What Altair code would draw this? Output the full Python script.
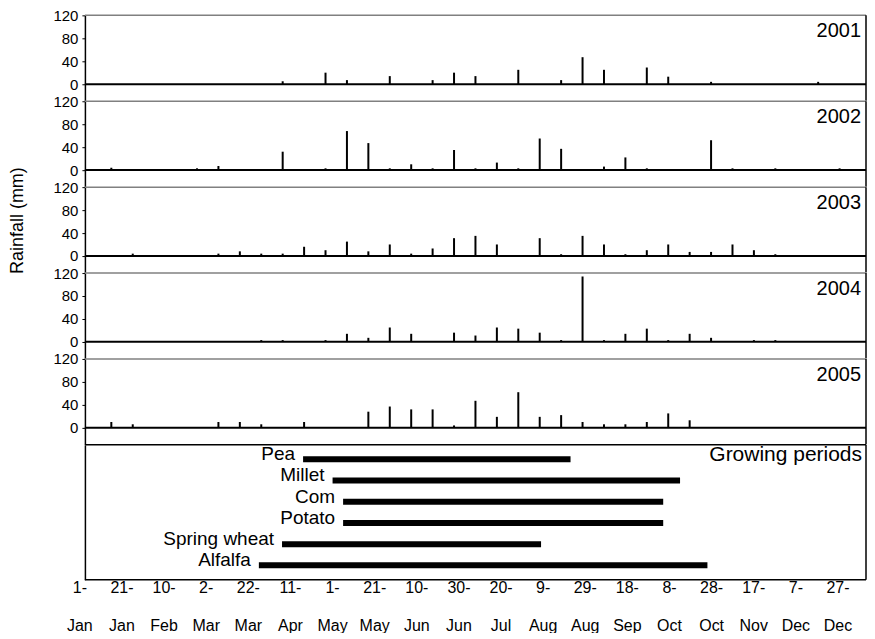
import altair as alt
import pandas as pd

FONT = "Liberation Sans"

# ---------------- data ----------------
years = ["2001", "2002", "2003", "2004", "2005"]

# dekad index (1..36) and rainfall (mm)
dek_2001 = [9, 11, 12, 14, 16, 17, 18, 20, 22, 23, 24, 26, 27, 29, 34]
mm_2001 = [5, 20, 7, 14, 7, 20, 14, 25, 7, 47, 25, 29, 13, 4, 4]

dek_2002 = [1, 5, 6, 9, 11, 12, 13, 14, 15, 16, 17, 18, 19, 20, 21, 22, 24, 25, 26, 29, 30, 32, 35]
mm_2002 = [4, 3, 7, 32, 3, 68, 47, 3, 10, 3, 35, 3, 13, 3, 55, 37, 6, 22, 3, 52, 3, 3, 3]

dek_2003 = [2, 6, 7, 8, 9, 10, 11, 12, 13, 14, 15, 16, 17, 18, 19, 21, 22, 23, 24, 25, 26, 27, 28, 29, 30, 31, 32]
mm_2003 = [4, 4, 8, 4, 4, 16, 10, 25, 8, 20, 4, 13, 31, 35, 20, 31, 3, 35, 20, 3, 10, 20, 7, 7, 20, 10, 3]

dek_2004 = [8, 9, 11, 12, 13, 14, 15, 17, 18, 19, 20, 21, 22, 23, 24, 25, 26, 27, 28, 29, 31, 32]
mm_2004 = [3, 3, 3, 14, 7, 25, 14, 16, 11, 25, 23, 16, 3, 114, 3, 14, 23, 3, 14, 7, 3, 3]

dek_2005 = [1, 2, 6, 7, 8, 10, 13, 14, 15, 16, 17, 18, 19, 20, 21, 22, 23, 24, 25, 26, 27, 28]
mm_2005 = [10, 6, 10, 10, 6, 10, 28, 37, 32, 32, 4, 47, 19, 62, 19, 22, 10, 6, 6, 10, 25, 13]

rain_dekads = [dek_2001, dek_2002, dek_2003, dek_2004, dek_2005]
rain_mm = [mm_2001, mm_2002, mm_2003, mm_2004, mm_2005]

crops = ["Pea", "Millet", "Com", "Potato", "Spring wheat", "Alfalfa"]
crop_start_day = [107, 121, 126, 126, 97, 86]
crop_end_day = [234, 286, 278, 278, 220, 299]

tick_days = [1, 21, 41, 61, 81, 101, 121, 141, 161, 181, 201, 221, 241, 261, 281, 301, 321, 341, 361]
tick_day_text = ["1-", "21-", "10-", "2-", "22-", "11-", "1-", "21-", "10-", "30-",
                 "20-", "9-", "29-", "18-", "8-", "28-", "17-", "7-", "27-"]
tick_month_text = ["Jan", "Jan", "Feb", "Mar", "Mar", "Apr", "May", "May", "Jun", "Jun",
                   "Jul", "Aug", "Aug", "Sep", "Oct", "Oct", "Nov", "Dec", "Dec"]

# ---------------- layout ----------------
W = 782
H_RAIN = 85.5
H_GROW = 135

x_dek = alt.Scale(domain=[0, 36], nice=False, zero=False)
y_rain = alt.Scale(domain=[-29, 120], nice=False, zero=False)
x_day = alt.Scale(domain=[3.4, 374.3], nice=False, zero=False)


def rain_panel(year, dek, mm, title):
    df = pd.DataFrame({"dekad": dek, "rain": mm})
    if title:
        yaxis = alt.Axis(values=[0, 40, 80, 120], title=title, titlePadding=26,
                         labelPadding=4, titleY=33)
    else:
        yaxis = alt.Axis(values=[0, 40, 80, 120], title=None, labelPadding=4)
    bars = alt.Chart(df).mark_bar(color="black", size=2).encode(
        x=alt.X("dekad:Q", scale=x_dek, axis=None),
        y=alt.Y("rain:Q", scale=y_rain, axis=yaxis),
    )
    top = alt.Chart(pd.DataFrame({"rain": [120]})).mark_rule(
        color="#808080", strokeWidth=1.5).encode(
        y=alt.Y("rain:Q", scale=y_rain, axis=yaxis))
    base = alt.Chart(pd.DataFrame({"rain": [0]})).mark_rule(
        color="black", strokeWidth=2).encode(
        y=alt.Y("rain:Q", scale=y_rain, axis=yaxis))
    right = alt.Chart(pd.DataFrame({"year": [year]})).mark_rule(
        color="black", strokeWidth=1.5).encode(
        x=alt.value(W), y=alt.value(0), y2=alt.value(H_RAIN))
    lab = alt.Chart(pd.DataFrame({"year": [year]})).mark_text(
        align="right", baseline="top", fontSize=20, font=FONT, color="black").encode(
        x=alt.value(W - 5), y=alt.value(6), text="year:N")
    return alt.layer(bars, top, base, right, lab).properties(width=W, height=H_RAIN)


panels = []
for i, yr in enumerate(years):
    panels.append(rain_panel(yr, rain_dekads[i], rain_mm[i],
                             "Rainfall (mm)" if i == 2 else None))

grow_df = pd.DataFrame({"crop": crops, "start": crop_start_day, "end": crop_end_day})
tick_df = pd.DataFrame({"day": tick_days, "dtxt": tick_day_text, "mtxt": tick_month_text})
one_g = pd.DataFrame({"t": ["Growing periods"]})
y_crop = alt.Scale(type="point", domain=crops, padding=0.675)
crop_axis = alt.Axis(labels=False, ticks=False, title=None, domain=True)

grow_bars = alt.Chart(grow_df).mark_rule(color="black", strokeWidth=6).encode(
    x=alt.X("start:Q", scale=x_day, axis=None),
    x2="end:Q",
    y=alt.Y("crop:N", scale=y_crop, axis=crop_axis),
)
grow_labels = alt.Chart(grow_df).mark_text(align="right", baseline="middle", dx=-8, dy=-5,
                                           fontSize=19, font=FONT, color="black").encode(
    x=alt.X("start:Q", scale=x_day, axis=None),
    y=alt.Y("crop:N", scale=y_crop, axis=crop_axis),
    text="crop:N",
)
grow_title = alt.Chart(one_g).mark_text(
    align="right", baseline="top", fontSize=21, font=FONT, color="black").encode(
    x=alt.value(W - 4), y=alt.value(-1), text="t:N")
box_top = alt.Chart(one_g).mark_rule(color="black", strokeWidth=1.5).encode(
    x=alt.value(0), x2=alt.value(W), y=alt.value(0))
box_bottom = alt.Chart(one_g).mark_rule(color="black", strokeWidth=1.5).encode(
    x=alt.value(0), x2=alt.value(W), y=alt.value(H_GROW))
box_right = alt.Chart(one_g).mark_rule(color="black", strokeWidth=1.5).encode(
    x=alt.value(W), y=alt.value(0), y2=alt.value(H_GROW))
day_txt = alt.Chart(tick_df).mark_text(baseline="middle", fontSize=16, font=FONT,
                                       color="black").encode(
    x=alt.X("day:Q", scale=x_day, axis=None), y=alt.value(H_GROW + 8), text="dtxt:N")
mon_txt = alt.Chart(tick_df).mark_text(baseline="middle", fontSize=16, font=FONT,
                                       color="black").encode(
    x=alt.X("day:Q", scale=x_day, axis=None), y=alt.value(H_GROW + 46), text="mtxt:N")

grow = alt.layer(grow_bars, grow_labels, grow_title, box_top, box_bottom, box_right,
                 day_txt, mon_txt).properties(width=W, height=H_GROW)

chart = alt.vconcat(*panels, grow, spacing=0, bounds="flush").properties(
    padding={"left": 0, "top": 0, "right": 0, "bottom": -1}
).configure_view(stroke=None).configure_axis(
    labelFont=FONT, labelFontSize=15, labelColor="black",
    titleFont=FONT, titleFontSize=18, titleColor="black", titleFontWeight="normal",
    domainColor="black", domainWidth=1.5, tickColor="black", tickSize=3, grid=False,
)

chart.save("out.html", embed_options={"renderer": "svg", "actions": False})
